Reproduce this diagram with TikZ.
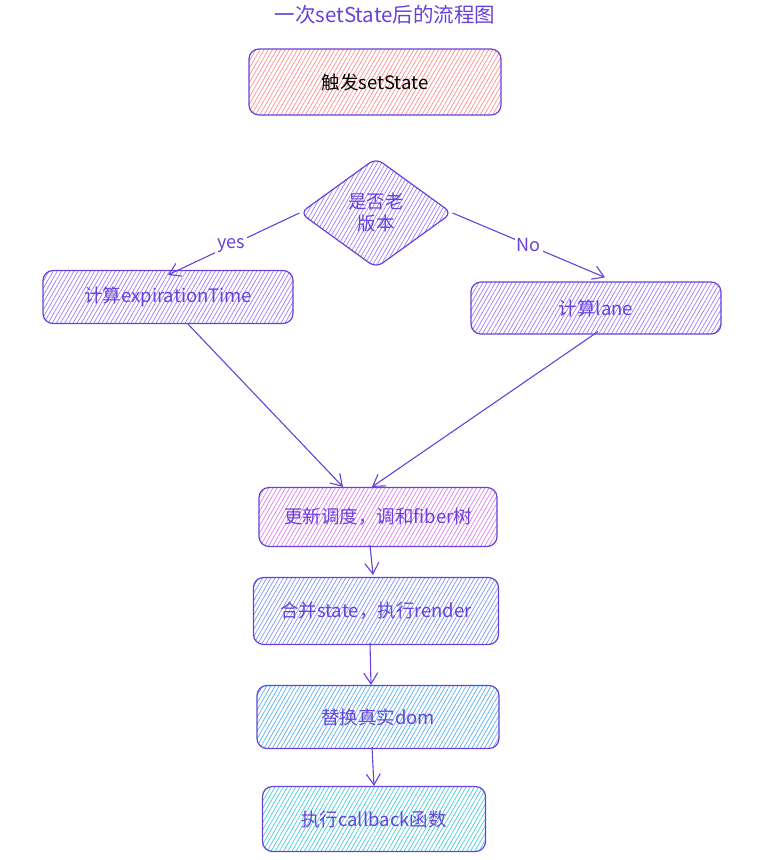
\documentclass[tikz,border=0pt]{standalone}
\usepackage{fontspec}
\setmainfont{Noto Sans CJK SC}
\usetikzlibrary{shapes.geometric,arrows.meta,patterns.meta,calc}
\definecolor{stroke}{HTML}{6741D9}
\definecolor{hred}{HTML}{FF8787}
\definecolor{hviolet}{HTML}{9775FA}
\definecolor{hgrape}{HTML}{DA77F2}
\definecolor{hindigo}{HTML}{748FFC}
\definecolor{hblue}{HTML}{4DABF7}
\definecolor{hcyan}{HTML}{3BC9DB}
\tikzset{
  hatch/.style={pattern={Lines[angle=60,distance=3.6pt,line width=0.65pt]},pattern color=#1},
  box/.style={draw=stroke,line width=1.2pt,rounded corners=10pt,rectangle,inner sep=0pt,
    text=stroke,font=\fontsize{18.5}{22}\selectfont,align=center},
  dia/.style={draw=stroke,line width=1.2pt,rounded corners=8pt,diamond,inner sep=0pt,
    text=stroke,font=\fontsize{18.5}{22}\selectfont,align=center},
  conn/.style={draw=stroke,line width=1.1pt,-{Straight Barb[length=11pt,width=14pt,line width=1.1pt]}},
  lbl/.style={fill=white,text=stroke,font=\fontsize{18}{21}\selectfont,inner sep=2pt},
}
\begin{document}
\begin{tikzpicture}[x=1pt,y=-1pt]
\useasboundingbox (0,0) rectangle (763,860);
\node[text=stroke,font=\fontsize{20.5}{24}\selectfont] (title) at (385,15) {一次setState后的流程图};
\node[box,hatch=hred,text=black,minimum width=252pt,minimum height=66pt] (trig) at (375,82) {触发setState};
\node[dia,hatch=hviolet,minimum width=152pt,minimum height=110pt] (old) at (376,213) {是否老\\版本};
\node[box,hatch=hviolet,minimum width=250pt,minimum height=53pt] (exp) at (168,297) {计算expirationTime};
\node[box,hatch=hviolet,minimum width=250pt,minimum height=52pt] (lane) at (596,308) {计算lane};
\node[box,hatch=hgrape,minimum width=238pt,minimum height=59pt] (upd) at (378,517) {更新调度，调和fiber树};
\node[box,hatch=hindigo,minimum width=245pt,minimum height=67pt] (merge) at (376,611) {合并state，执行render};
\node[box,hatch=hblue,minimum width=242pt,minimum height=63pt] (dom) at (378,717) {替换真实dom};
\node[box,hatch=hcyan,minimum width=223pt,minimum height=65pt] (cb) at (374,819) {执行callback函数};
\coordinate (yesend) at ([yshift=-5pt]exp.north);
\coordinate (noend) at ([xshift=9pt,yshift=4pt]lane.north);
\draw[conn] (old.west) -- node[lbl,pos=0.52] (yes) {yes} (yesend);
\draw[conn] (old.east) -- node[lbl,pos=0.5] (no) {No} (noend);
\draw[conn] ([xshift=20pt]exp.south) -- ([xshift=-35pt]upd.north);
\draw[conn] ([xshift=2pt,yshift=3pt]lane.south) -- ([xshift=-6pt]upd.north);
\draw[conn] ([xshift=-8pt,yshift=2pt]upd.south) -- ([xshift=-3pt,yshift=2pt]merge.north);
\draw[conn] ([xshift=-6pt,yshift=2pt]merge.south) -- ([xshift=-7pt]dom.north);
\draw[conn] ([xshift=-6pt,yshift=2pt]dom.south) -- ([xshift=0pt]cb.north);
\end{tikzpicture}
\end{document}
